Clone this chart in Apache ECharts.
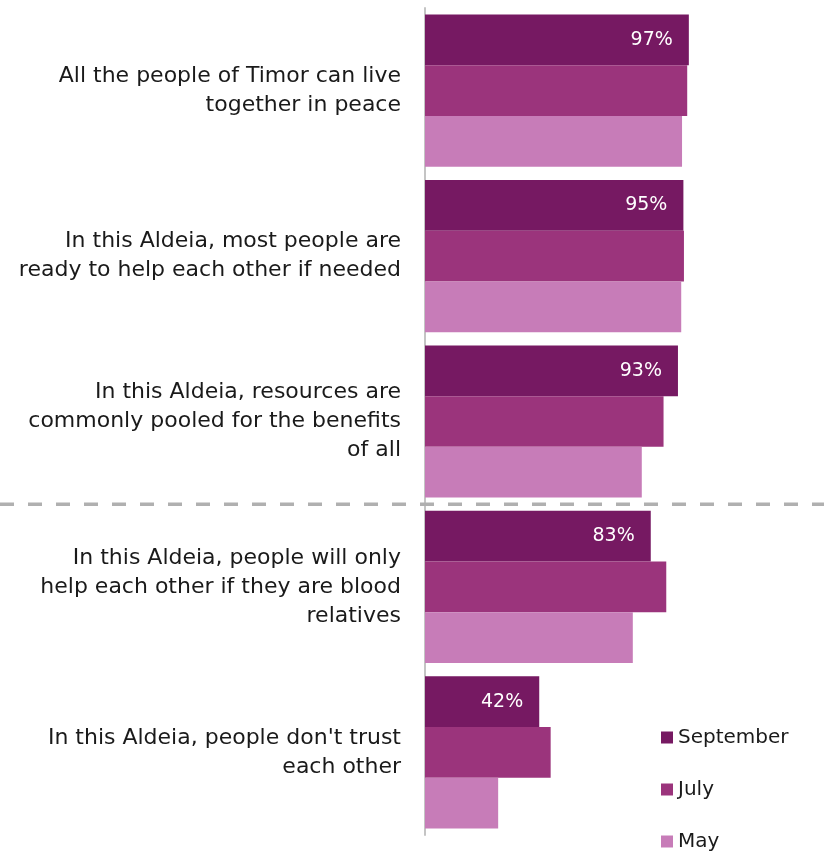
<!DOCTYPE html>
<html>
<head>
<meta charset="utf-8">
<style>
  html, body { margin: 0; padding: 0; background: #ffffff; }
  #chart { width: 824px; height: 853px; }
</style>
<script src="https://cdn.jsdelivr.net/npm/echarts@6/dist/echarts.min.js"></script>
</head>
<body>
<div id="chart"></div>
<script>
// Statements, top to bottom
const statements = [
  'All the people of Timor can live\ntogether in peace',
  'In this Aldeia, most people are\nready to help each other if needed',
  'In this Aldeia, resources are\ncommonly pooled for the benefits\nof all',
  'In this Aldeia, people will only\nhelp each other if they are blood\nrelatives',
  "In this Aldeia, people don't trust\neach other"
];

// Share agreeing (%) by survey round
const september = [97, 95, 93, 83, 42];
const july = [96.4, 95.2, 87.7, 88.7, 46.2];
const may = [94.5, 94.2, 79.7, 76.4, 26.9];

const roundNames = ['September', 'July', 'May'];
const roundColors = ['#761962', '#9b347c', '#c77cb8'];

const FONT = 'DejaVu Sans';

const chart = echarts.init(document.getElementById('chart'), null, { renderer: 'canvas' });

function barSeries(name, values, color, withLabel) {
  return {
    name: name,
    type: 'bar',
    data: values,
    barGap: '0%',
    barCategoryGap: '8%',
    itemStyle: { color: color },
    emphasis: { disabled: true },
    label: withLabel ? {
      show: true,
      position: 'insideRight',
      distance: 16,
      color: '#ffffff',
      fontFamily: FONT,
      fontSize: 19,
      formatter: p => p.value + '%'
    } : { show: false }
  };
}

chart.setOption({
  animation: false,
  grid: { left: 425, right: 127, top: 8, bottom: 18, containLabel: false },
  xAxis: {
    type: 'value',
    min: 0,
    max: 100,
    show: false
  },
  yAxis: {
    type: 'category',
    inverse: true,
    data: statements,
    axisLine: { show: true, lineStyle: { color: '#c4c4c4', width: 2 } },
    axisTick: { show: false },
    splitLine: { show: false },
    axisLabel: {
      color: '#1a1a1a',
      fontFamily: FONT,
      fontSize: 22,
      lineHeight: 29,
      align: 'right',
      margin: 24
    }
  },
  legend: {
    orient: 'vertical',
    left: 661,
    top: 726,
    padding: 0,
    itemWidth: 12,
    itemHeight: 12,
    itemGap: 29,
    icon: 'rect',
    textStyle: { color: '#1a1a1a', fontFamily: FONT, fontSize: 20, lineHeight: 23 },
    data: roundNames
  },
  series: [
    barSeries(roundNames[0], september, roundColors[0], true),
    barSeries(roundNames[1], july, roundColors[1], false),
    barSeries(roundNames[2], may, roundColors[2], false)
  ]
});

// Dashed divider between the third and fourth statements, across the full width
const yA = chart.convertToPixel({ yAxisIndex: 0 }, 2);
const yB = chart.convertToPixel({ yAxisIndex: 0 }, 3);
const dividerY = (yA + yB) / 2;
chart.setOption({
  graphic: [{
    type: 'line',
    silent: true,
    z: 10,
    shape: { x1: 0, y1: dividerY, x2: 824, y2: dividerY },
    style: { stroke: '#b0b0b0', lineWidth: 3.5, lineDash: [14, 14] }
  }]
});
</script>
</body>
</html>
